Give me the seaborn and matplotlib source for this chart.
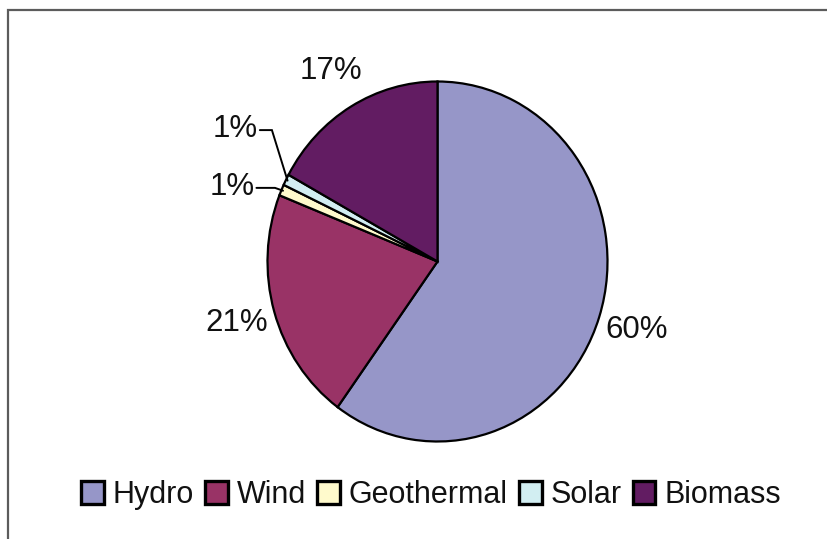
import matplotlib
matplotlib.use("Agg")
import matplotlib.pyplot as plt
import seaborn as sns
import numpy as np
from matplotlib.patches import Rectangle

# ---- data ----
categories = ["Hydro", "Wind", "Geothermal", "Solar", "Biomass"]
shares = [60, 21, 1, 1, 17]
colors = ["#9696C8", "#993366", "#FFFACC", "#D2EEF2", "#621C62"]

sns.set_theme(style="white")
plt.rcParams["font.family"] = ["Liberation Sans", "DejaVu Sans"]

W, H = 828, 539
fig = plt.figure(figsize=(W / 100, H / 100), dpi=100)
fig.patch.set_facecolor("white")

# pie geometry (pixels)
cx, cy = 437.5, H - 261.5
rx, ry = 170, 180
xl, yl = 1.5, 1.3
ax = fig.add_axes([(cx - xl * rx) / W, (cy - yl * ry) / H,
                   2 * xl * rx / W, 2 * yl * ry / H])

wedges, _ = ax.pie(shares, colors=colors, startangle=90, counterclock=False,
                   wedgeprops=dict(edgecolor="black", linewidth=1.6))
ax.set_aspect("auto")
ax.set_xlim(-xl, xl)
ax.set_ylim(-yl, yl)
ax.axis("off")

FS = 22.5
# label placement for small slices with leader lines (label right edge x, y, elbow x)
small_labels = {"Geothermal": (-1.075, 0.414, -0.956),
                "Solar": (-1.055, 0.735, -0.974)}

for w, cat, v in zip(wedges, categories, shares):
    mid = np.deg2rad((w.theta1 + w.theta2) / 2)
    txt = f"{v}%"
    if cat in small_labels:
        tx, ty, ex = small_labels[cat]
        px, py = 0.99 * np.cos(mid), 0.99 * np.sin(mid)
        ax.plot([tx + 0.01, ex, px], [ty - 0.005, ty - 0.005, py],
                color="black", linewidth=1.4, solid_joinstyle="miter")
        ax.text(tx, ty, txt, ha="right", va="center", fontsize=FS, color="#111111")
    else:
        r = 1.23
        ax.text(r * np.cos(mid), r * np.sin(mid), txt, ha="center", va="center",
                fontsize=FS, color="#111111")

leg = fig.legend(wedges, categories, loc="center", bbox_to_anchor=(431 / W, 44 / H),
                 ncol=5, frameon=False, fontsize=FS - 0.5, handlelength=0.75,
                 handleheight=0.75, handletextpad=0.3, columnspacing=0.35,
                 borderaxespad=0, borderpad=0)
for p in leg.get_patches():
    p.set_linewidth(2.4)
    p.set_edgecolor("black")
for t in leg.get_texts():
    t.set_color("#111111")

# outer frame (only top and left visible)
fig.patches.append(Rectangle((8 / W, -0.1), 1.2, (H - 10) / H + 0.1,
                             transform=fig.transFigure, fill=False,
                             edgecolor="#5c5c5c", linewidth=1.6))

fig.savefig("out.png", dpi=100)
